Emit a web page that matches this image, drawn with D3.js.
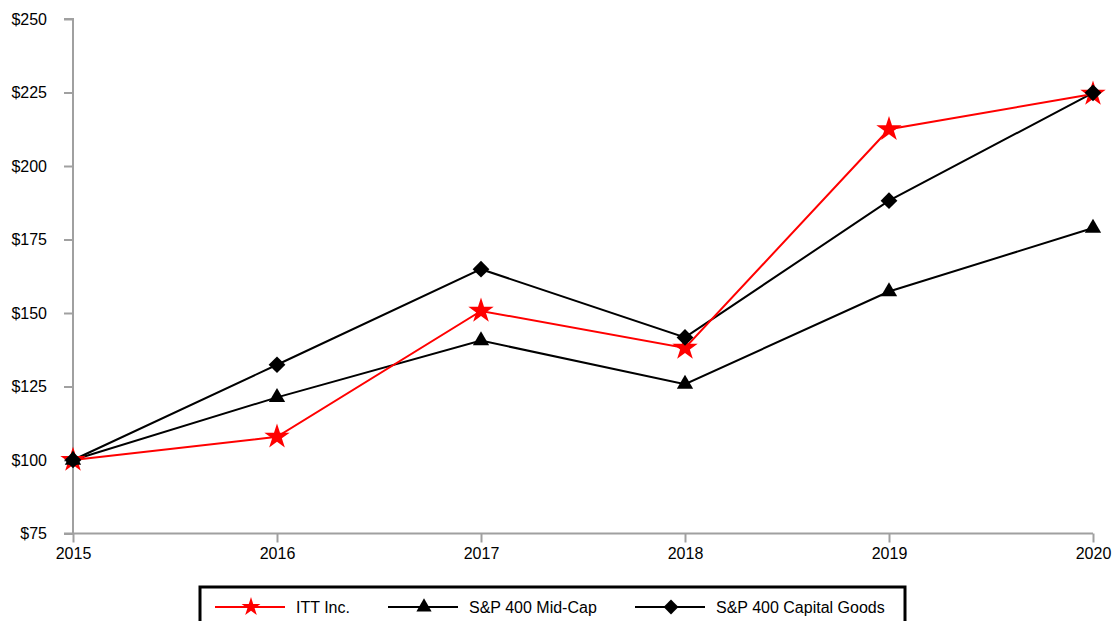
<!DOCTYPE html>
<html>
<head>
<meta charset="utf-8">
<script src="https://cdn.jsdelivr.net/npm/d3@7"></script>
<style>
  body { margin: 0; background: #fff; }
  svg { display: block; }
  text { font-family: "Liberation Sans", Arial, sans-serif; fill: #000; }
</style>
</head>
<body>
<svg id="chart" width="1112" height="621"></svg>
<script>
// data
var years = ["2015", "2016", "2017", "2018", "2019", "2020"];
var ittValues = [100, 107.9, 150.7, 138.1, 212.5, 224.5];
var midCapValues = [100, 121.3, 140.6, 125.8, 157.3, 178.9];
var capGoodsValues = [100, 132.4, 164.9, 141.7, 188.2, 224.9];
var yTicks = [75, 100, 125, 150, 175, 200, 225, 250];
var seriesNames = ["ITT Inc.", "S&P 400 Mid-Cap", "S&P 400 Capital Goods"];

var svg = d3.select("#chart");
var margin = {left: 73, top: 19, right: 19, bottom: 87.5};
var width = 1112 - margin.left - margin.right,
    height = 621 - margin.top - margin.bottom;

var xScale = d3.scalePoint()
    .domain(years)
    .range([0, width]);

var yScale = d3.scaleLinear()
    .domain([75, 250])
    .range([height, 0]);

var g = svg.append("g")
    .attr("transform", "translate(" + margin.left + "," + margin.top + ")");

// Y axis
var yAxis = d3.axisLeft(yScale)
    .tickValues(yTicks)
    .tickSize(9)
    .tickPadding(17)
    .tickFormat(function(d) { return "$" + d; });

var yG = g.append("g").attr("class", "axis").call(yAxis);

// X axis
var xAxis = d3.axisBottom(xScale)
    .tickSize(9)
    .tickPadding(5);

var xG = g.append("g")
    .attr("class", "axis")
    .attr("transform", "translate(0," + height + ")")
    .call(xAxis);

[yG, xG].forEach(function(a) {
    a.attr("font-size", null).attr("font-family", null);
    a.select(".domain").attr("stroke", "#a0a0a0").attr("stroke-width", 2);
    a.selectAll(".tick line").attr("stroke", "#a0a0a0").attr("stroke-width", 2);
    a.selectAll(".tick text")
        .style("font-family", '"Liberation Sans", Arial, sans-serif')
        .style("font-size", "16px")
        .attr("fill", "#000");
});
// extend x axis line to the left to meet the y tick at $75
xG.select(".domain").attr("d", "M-9,0H" + width);
yG.select(".domain").attr("d", "M-9,0H0V" + height);

var series = [
    {name: seriesNames[0], values: ittValues, color: "#ff0000", symbol: d3.symbolStar, size: 200, rot: 0, legendSize: 110},
    {name: seriesNames[1], values: midCapValues, color: "#000000", symbol: d3.symbolTriangle, size: 115, rot: 0, legendSize: 100},
    {name: seriesNames[2], values: capGoodsValues, color: "#000000", symbol: d3.symbolSquare, size: 140, rot: 45, legendSize: 110}
];

var line = d3.line()
    .x(function(d, i) { return xScale(years[i]); })
    .y(function(d) { return yScale(d); });

// lines: black series first, red on top
[series[1], series[2], series[0]].forEach(function(s) {
    g.append("path")
        .datum(s.values)
        .attr("fill", "none")
        .attr("stroke", s.color)
        .attr("stroke-width", 2)
        .attr("d", line);
});

// markers: stars first, black markers over them
[series[0], series[2], series[1]].forEach(function(s) {
    g.selectAll(null)
        .data(s.values)
        .enter()
        .append("path")
        .attr("d", d3.symbol().type(s.symbol).size(s.size))
        .attr("fill", s.color)
        .attr("transform", function(d, i) {
            return "translate(" + xScale(years[i]) + "," + yScale(d) + ") rotate(" + s.rot + ")";
        });
});

// legend
svg.append("rect")
    .attr("x", 200)
    .attr("y", 587)
    .attr("width", 705)
    .attr("height", 60)
    .attr("fill", "#fff")
    .attr("stroke", "#000")
    .attr("stroke-width", 3);

var legendX = [215, 388, 635];
var legend = svg.selectAll(".legend")
    .data(series)
    .enter().append("g")
    .attr("class", "legend")
    .attr("transform", function(d, i) { return "translate(" + legendX[i] + ",607)"; });

legend.append("line")
    .attr("x1", 0)
    .attr("x2", 70)
    .attr("stroke", function(d) { return d.color; })
    .attr("stroke-width", 2);

legend.append("path")
    .attr("d", function(d) { return d3.symbol().type(d.symbol).size(d.legendSize)(); })
    .attr("fill", function(d) { return d.color; })
    .attr("transform", function(d) { return "translate(36,0) rotate(" + d.rot + ")"; });

legend.append("text")
    .attr("x", 81)
    .attr("y", 0)
    .attr("dy", "0.36em")
    .style("font-size", "16px")
    .text(function(d) { return d.name; });
</script>
</body>
</html>
